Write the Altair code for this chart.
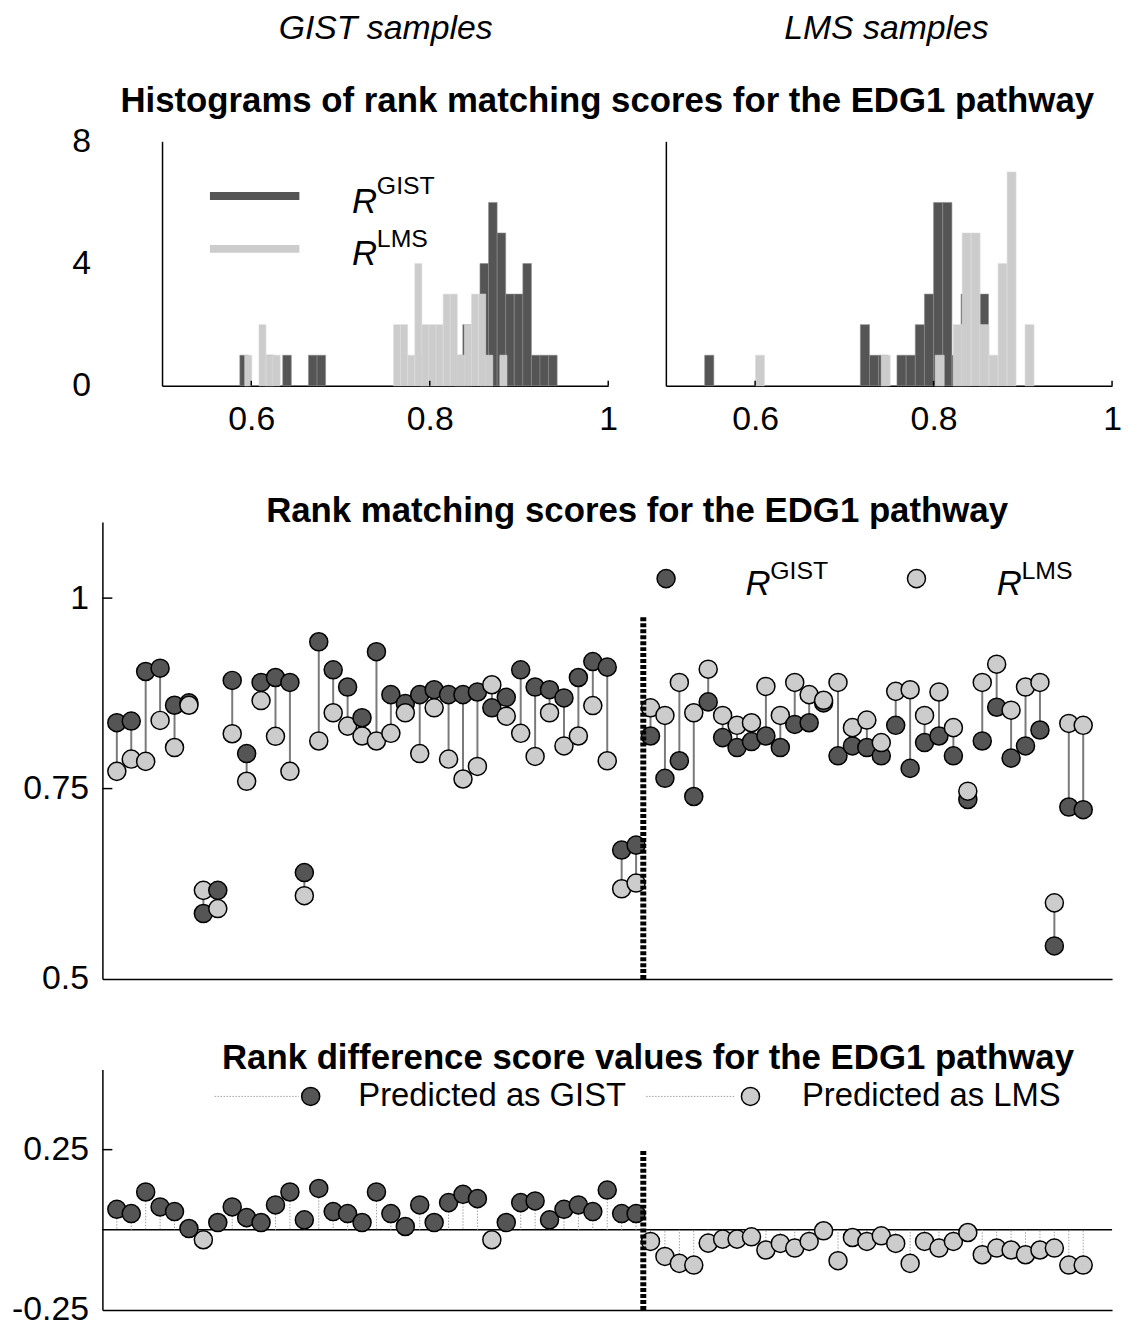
import altair as alt
import pandas as pd

FONT = "Liberation Sans"
DARK = "#555555"
LIGHT = "#cccccc"

# ---------------- text ----------------
group_titles = ["GIST samples", "LMS samples"]
hist_title = "Histograms of rank matching scores for the EDG1 pathway"
mid_title = "Rank matching scores for the EDG1 pathway"
bot_title = "Rank difference score values for the EDG1 pathway"
legend_sup = ["GIST", "LMS"]
pred_labels = ["Predicted as GIST", "Predicted as LMS"]

# ---------------- data ----------------
n_gist = 37  # samples 1..37 are GIST, 38..68 are LMS
r_gist = [0.8365, 0.8386, 0.9037, 0.9080, 0.8594, 0.8625, 0.5860, 0.6164, 0.8920, 0.7960,
          0.8893, 0.8958, 0.8893, 0.6398, 0.9427, 0.9059, 0.8833, 0.8430, 0.9297, 0.8733,
          0.8616, 0.8733, 0.8798, 0.8733, 0.8733, 0.8768, 0.8560, 0.8698, 0.9059, 0.8833,
          0.8798, 0.8690, 0.8958, 0.9167, 0.9094, 0.6693, 0.6758,
          0.8190, 0.7635, 0.7865, 0.7396, 0.8638, 0.8169, 0.8039, 0.8117, 0.8190, 0.8039,
          0.8342, 0.8364, 0.8625, 0.7930, 0.8060, 0.8039, 0.7930, 0.8330, 0.7765, 0.8104,
          0.8190, 0.7930, 0.7357, 0.8125, 0.8568, 0.7900, 0.8060, 0.8269, 0.5435, 0.7258, 0.7223]
r_lms = [0.7726, 0.7887, 0.7857, 0.8395, 0.8039, 0.8594, 0.6164, 0.5925, 0.8220, 0.7596,
         0.8655, 0.8186, 0.7727, 0.6094, 0.8125, 0.8495, 0.8320, 0.8190, 0.8125, 0.8225,
         0.8495, 0.7960, 0.8560, 0.7887, 0.7626, 0.7791, 0.8863, 0.8450, 0.8225, 0.7922,
         0.8495, 0.8060, 0.8190, 0.8590, 0.7865, 0.6185, 0.6260,
         0.8560, 0.8460, 0.8893, 0.8495, 0.9067, 0.8460, 0.8330, 0.8364, 0.8841, 0.8460,
         0.8893, 0.8733, 0.8659, 0.8893, 0.8300, 0.8399, 0.8104, 0.8776, 0.8798, 0.8460,
         0.8768, 0.8300, 0.7466, 0.8893, 0.9133, 0.8529, 0.8833, 0.8893, 0.6000, 0.8355, 0.8330]
rank_diff = [0.064, 0.0506, 0.118, 0.0714, 0.0568, 0.004, -0.031, 0.0227, 0.0714, 0.038,
             0.0227, 0.0776, 0.118, 0.031, 0.129, 0.0568, 0.0506, 0.0227, 0.118, 0.0506,
             0.0103, 0.0776, 0.0227, 0.0848, 0.1106, 0.0972, -0.031, 0.0227, 0.0848, 0.090,
             0.031, 0.064, 0.0776, 0.0568, 0.124, 0.0506, 0.0506,
             -0.0363, -0.083, -0.1047, -0.110, -0.0415, -0.029, -0.029, -0.0218, -0.063, -0.0425,
             -0.057, -0.0363, -0.003, -0.0963, -0.024, -0.0363, -0.0187, -0.0425, -0.1047, -0.0363,
             -0.057, -0.0363, -0.0084, -0.0777, -0.057, -0.063, -0.0777, -0.063, -0.057, -0.110, -0.110]

# histogram bins: (first bin edge, bin width, counts)
hgl_dark_start, hgl_dark_w = 0.5872, 0.00961
hgl_dark = [1, 0, 0, 1, 0, 1, 0, 0, 1, 1, 0, 0, 0, 0, 0, 0, 0, 0, 0, 0,
            0, 1, 0, 0, 0, 1, 2, 0, 4, 6, 5, 3, 3, 4, 1, 1, 1]
hgl_light_start, hgl_light_w = 0.5927, 0.00794
hgl_light = [1, 0, 2, 1, 1, 0, 0, 0, 0, 0, 0, 0, 0, 0, 0, 0, 0, 0, 0, 0,
             0, 2, 2, 1, 4, 2, 2, 2, 3, 3, 1, 2, 3, 3, 1, 0, 1]
hlm_dark_start, hlm_dark_w = 0.5435, 0.01026
hlm_dark = [1, 0, 0, 0, 0, 0, 0, 0, 0, 0, 0, 0, 0, 0, 0, 0, 0, 2, 1, 1,
            0, 1, 1, 2, 3, 6, 6, 1, 3, 0, 3]
hlm_light_start, hlm_light_w = 0.6004, 0.01007
hlm_light = [1, 0, 0, 0, 0, 0, 0, 0, 0, 0, 0, 0, 0, 0, 1, 0, 0, 0, 0, 0,
             1, 0, 2, 5, 5, 2, 1, 4, 7, 0, 2]
hist_ticks = [0.6, 0.8, 1.0]

split_x = 37.5
mid_split = [0.5, 0.975]
bot_split = [-0.25, 0.25]

# ---------------- layout constants ----------------
W = 1016
H1, H2, H3 = 246, 460, 242
label_expr = "datum.value < 0 ? '-' + format(-datum.value, '~g') : format(datum.value, '~g')"
PT = 330  # circle area


def bars(start, width, counts):
    rows = []
    for k, c in enumerate(counts):
        if c > 0:
            rows.append({"a": start + k * width, "b": start + (k + 1) * width, "c": c, "z": 0})
    return pd.DataFrame(rows)


# ---------------- row 0 : italic group labels ----------------
row0 = alt.layer(
    alt.Chart(pd.DataFrame({"t": [group_titles[0]]})).mark_text(
        font=FONT, fontSize=34, fontStyle="italic", color="black", baseline="top"
    ).encode(x=alt.value(285), y=alt.value(0), text="t:N"),
    alt.Chart(pd.DataFrame({"t": [group_titles[1]]})).mark_text(
        font=FONT, fontSize=34, fontStyle="italic", color="black", baseline="top"
    ).encode(x=alt.value(789), y=alt.value(0), text="t:N"),
).properties(width=W, height=71.5)

# ---------------- row 1 : histograms ----------------
def hscale(rng):
    return alt.Scale(domain=[0.5, 1.0], range=rng, nice=False, zero=False)


hy_scale = alt.Scale(domain=[0, 8], nice=False)
rngL, rngR = [60, 509], [567, 1016]
hx_axis = alt.Axis(orient="bottom", values=hist_ticks, labelExpr=label_expr, labelFlush=False,
                   tickSize=0, labelPadding=17, title=None, grid=False)
hyL_axis = alt.Axis(orient="left", values=[0, 4, 8], offset=-60, labelPadding=72, tickSize=0,
                    title=None, grid=False)
hyR_axis = alt.Axis(orient="left", offset=-567, labels=False, ticks=False, title=None, grid=False)


def hist_layer(df, rng, color, stroke, xaxis, yaxis):
    return alt.Chart(df).mark_rect(color=color, stroke=stroke, strokeWidth=0.6).encode(
        x=alt.X("a:Q", scale=hscale(rng), axis=xaxis),
        x2="b:Q",
        y=alt.Y("c:Q", scale=hy_scale, axis=yaxis),
        y2="z:Q",
    )


def hist_ticks_layer(rng):
    return alt.Chart(pd.DataFrame({"t": hist_ticks})).mark_rule(color="black", strokeWidth=1.5).encode(
        x=alt.X("t:Q", scale=hscale(rng), axis=None), y=alt.value(H1), y2=alt.value(H1 - 5))


h_layers = [
    hist_layer(bars(hgl_dark_start, hgl_dark_w, hgl_dark), rngL, DARK, "#8a8a8a", hx_axis, hyL_axis),
    hist_layer(bars(hgl_light_start, hgl_light_w, hgl_light), rngL, LIGHT, "#dddddd", None, None),
    hist_layer(bars(hlm_dark_start, hlm_dark_w, hlm_dark), rngR, DARK, "#8a8a8a", hx_axis, hyR_axis),
    hist_layer(bars(hlm_light_start, hlm_light_w, hlm_light), rngR, LIGHT, "#dddddd", None, None),
    hist_ticks_layer(rngL),
    hist_ticks_layer(rngR),
]

hleg_lines = pd.DataFrame({"a": [0.5537, 0.5537], "b": [0.6539, 0.6539], "y": [6.21, 4.48],
                           "s": ["GIST", "LMS"]})
h_layers.append(
    alt.Chart(hleg_lines).mark_rule(strokeWidth=8, strokeCap="butt").encode(
        x=alt.X("a:Q", scale=hscale(rngL), axis=None), x2="b:Q",
        y=alt.Y("y:Q", scale=hy_scale, axis=None),
        color=alt.Color("s:N", scale=alt.Scale(domain=["GIST", "LMS"], range=[DARK, LIGHT]), legend=None),
    )
)
hleg_R = pd.DataFrame({"x": [0.7129, 0.7129], "y": [5.67, 3.94], "t": ["R", "R"]})
hleg_S = pd.DataFrame({"x": [0.7407, 0.7407], "y": [6.27, 4.54], "t": legend_sup})
h_layers.append(
    alt.Chart(hleg_R).mark_text(font=FONT, fontSize=35, fontStyle="italic", align="left",
                                baseline="alphabetic", color="black").encode(
        x=alt.X("x:Q", scale=hscale(rngL), axis=None), y=alt.Y("y:Q", scale=hy_scale, axis=None), text="t:N")
)
h_layers.append(
    alt.Chart(hleg_S).mark_text(font=FONT, fontSize=25, align="left",
                                baseline="alphabetic", color="black").encode(
        x=alt.X("x:Q", scale=hscale(rngL), axis=None), y=alt.Y("y:Q", scale=hy_scale, axis=None), text="t:N")
)

row1 = alt.layer(*h_layers).resolve_scale(x="independent", y="independent").properties(
    width=W, height=H1,
    title=alt.TitleParams(hist_title, offset=6, anchor="middle"),
)

# ---------------- row 2 : rank matching scores ----------------
samples = list(range(1, len(r_gist) + 1))
x_mid = alt.Scale(domain=[0, 70], nice=False, zero=False)
y_mid = alt.Scale(domain=[0.5, 1.1], nice=False, zero=False)
x_plain = alt.Axis(labels=False, ticks=False, title=None, grid=False)
y_mid_axis = alt.Axis(values=[0.5, 0.75, 1.0], labelExpr=label_expr, tickSize=0, labelPadding=14,
                      title=None, grid=False)


def mx(f):
    return alt.X(f, type="quantitative", scale=x_mid, axis=x_plain)


def my(f):
    return alt.Y(f, type="quantitative", scale=y_mid, axis=y_mid_axis)


pair_df = pd.DataFrame({"j": samples, "g": r_gist, "l": r_lms})
long_rows = []
for j, g, l in zip(samples, r_gist, r_lms):
    long_rows.append({"j": j, "v": g, "s": "GIST", "o": 2 * j})
    long_rows.append({"j": j, "v": l, "s": "LMS", "o": 2 * j + 1})
long_df = pd.DataFrame(long_rows)
fill_scale = alt.Scale(domain=["GIST", "LMS"], range=[DARK, LIGHT])

mid_rules = alt.Chart(pair_df).mark_rule(color="#7a7a7a", strokeWidth=2).encode(
    x=mx("j"), y=my("g"), y2="l:Q")
mid_pts = alt.Chart(long_df).mark_circle(size=PT, opacity=1, stroke="black", strokeWidth=1.5).encode(
    x=mx("j"), y=my("v"), fill=alt.Fill("s:N", scale=fill_scale, legend=None), order=alt.Order("o:Q"))
mid_split_line = alt.Chart(pd.DataFrame({"x": [split_x], "y0": [mid_split[0]], "y1": [mid_split[1]]})).mark_rule(
    color="black", strokeWidth=6, strokeDash=[4, 2]).encode(x=mx("x"), y=my("y0"), y2="y1:Q")
mid_ticks = alt.Chart(pd.DataFrame({"t": [0.75, 1.0]})).mark_rule(color="black", strokeWidth=1.5).encode(
    y=my("t"), x=alt.value(0), x2=alt.value(10))
mleg_pts = pd.DataFrame({"x": [39.08, 56.44], "y": [1.0256, 1.0256], "s": ["GIST", "LMS"]})
mleg_R = pd.DataFrame({"x": [44.58, 62.0], "y": [1.0035, 1.0035], "t": ["R", "R"]})
mleg_S = pd.DataFrame({"x": [46.3, 63.72], "y": [1.0257, 1.0257], "t": legend_sup})
mid_leg_pts = alt.Chart(mleg_pts).mark_circle(size=PT, opacity=1, stroke="black", strokeWidth=1.5).encode(
    x=mx("x"), y=my("y"), fill=alt.Fill("s:N", scale=fill_scale, legend=None))
mid_leg_R = alt.Chart(mleg_R).mark_text(font=FONT, fontSize=35, fontStyle="italic", align="left",
                                        baseline="alphabetic", color="black").encode(
    x=mx("x"), y=my("y"), text="t:N")
mid_leg_S = alt.Chart(mleg_S).mark_text(font=FONT, fontSize=25, align="left",
                                        baseline="alphabetic", color="black").encode(
    x=mx("x"), y=my("y"), text="t:N")

row2 = alt.layer(mid_rules, mid_pts, mid_split_line, mid_ticks, mid_leg_pts, mid_leg_R, mid_leg_S).properties(
    width=W, height=H2,
    title=alt.TitleParams(mid_title, offset=-7, anchor="middle", dx=30),
)

# ---------------- row 3 : rank difference ----------------
y_bot = alt.Scale(domain=[-0.25, 0.5], nice=False, zero=False)
y_bot_axis = alt.Axis(values=[-0.25, 0.25], labelExpr=label_expr, tickSize=0, labelPadding=14,
                      title=None, grid=False)


def by(f):
    return alt.Y(f, type="quantitative", scale=y_bot, axis=y_bot_axis)


diff_df = pd.DataFrame({"j": samples, "d": rank_diff, "z": 0.0})
bot_zero = alt.Chart(pd.DataFrame({"z": [0.0]})).mark_rule(color="black", strokeWidth=1.5).encode(y=by("z"))
bot_stems = alt.Chart(diff_df).mark_rule(color="#a0a0a0", strokeWidth=1, strokeDash=[1.5, 1.5]).encode(
    x=mx("j"), y=by("d"), y2="z:Q")
bot_pts = alt.Chart(diff_df).mark_circle(size=PT, opacity=1, stroke="black", strokeWidth=1.5).encode(
    x=mx("j"), y=by("d"),
    fill=alt.condition("datum.d > 0", alt.value(DARK), alt.value(LIGHT)))
bot_split_line = alt.Chart(pd.DataFrame({"x": [split_x], "y0": [bot_split[0]], "y1": [bot_split[1]]})).mark_rule(
    color="black", strokeWidth=6, strokeDash=[4, 2]).encode(x=mx("x"), y=by("y0"), y2="y1:Q")
bot_ticks = alt.Chart(pd.DataFrame({"t": [0.25]})).mark_rule(color="black", strokeWidth=1.5).encode(
    y=by("t"), x=alt.value(0), x2=alt.value(10))
bleg_lines = pd.DataFrame({"a": [7.78, 37.7], "b": [13.61, 43.9], "y": [0.416, 0.416]})
bleg_pts = pd.DataFrame({"x": [14.44, 44.93], "y": [0.416, 0.416], "s": ["GIST", "LMS"]})
bleg_txt = pd.DataFrame({"x": [17.74, 48.5], "y": [0.416, 0.416], "t": pred_labels})
bot_leg_lines = alt.Chart(bleg_lines).mark_rule(color="#a0a0a0", strokeWidth=1, strokeDash=[1.5, 1.5]).encode(
    x=mx("a"), x2="b:Q", y=by("y"))
bot_leg_pts = alt.Chart(bleg_pts).mark_circle(size=PT, opacity=1, stroke="black", strokeWidth=1.5).encode(
    x=mx("x"), y=by("y"), fill=alt.Fill("s:N", scale=fill_scale, legend=None))
bot_leg_txt = alt.Chart(bleg_txt).mark_text(font=FONT, fontSize=33, align="left", baseline="middle",
                                            color="black").encode(x=mx("x"), y=by("y"), text="t:N")

row3 = alt.layer(bot_zero, bot_stems, bot_pts, bot_split_line, bot_ticks,
                 bot_leg_lines, bot_leg_pts, bot_leg_txt).properties(
    width=W, height=H3,
    title=alt.TitleParams(bot_title, offset=-6.5, anchor="middle", dx=41),
)


def spacer(h):
    return alt.Chart(pd.DataFrame({"a": [0]})).mark_point(opacity=0).encode(
        x=alt.value(0), y=alt.value(0)).properties(width=W, height=h)


chart = alt.vconcat(row0, row1, spacer(55), row2, spacer(42), row3, spacing=0).properties(
    padding={"left": 3, "top": 0, "right": 0, "bottom": 0}
).configure_view(strokeWidth=0).configure_axis(
    domainColor="black", domainWidth=1.5, labelFont=FONT, labelFontSize=34, labelColor="black"
).configure_title(font=FONT, fontSize=35, fontWeight="bold", color="black")

chart.save("out.html", embed_options={"renderer": "svg", "actions": False})
